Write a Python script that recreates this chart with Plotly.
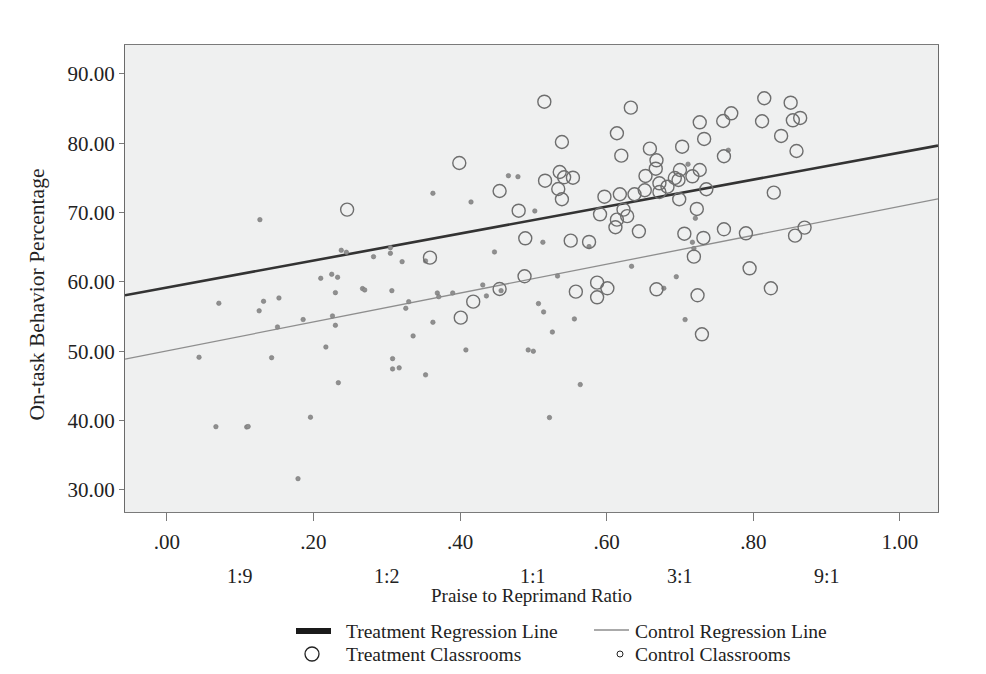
import plotly.graph_objects as go

# ---- data ----
treat_x = [0.246, 0.359, 0.399, 0.401, 0.418, 0.454, 0.454, 0.480, 0.489, 0.488,
           0.515, 0.516, 0.534, 0.536, 0.539, 0.539, 0.542, 0.554, 0.551, 0.558,
           0.576, 0.587, 0.587, 0.591, 0.597, 0.601, 0.614, 0.612, 0.614, 0.620,
           0.618, 0.623, 0.628, 0.633, 0.638, 0.644, 0.652, 0.653, 0.659, 0.668,
           0.667, 0.672, 0.672, 0.668, 0.683, 0.693, 0.700, 0.698, 0.699, 0.703,
           0.706, 0.717, 0.719, 0.723, 0.724, 0.727, 0.727, 0.732, 0.730, 0.733,
           0.736, 0.759, 0.760, 0.760, 0.770, 0.790, 0.795, 0.812, 0.815, 0.824,
           0.828, 0.838, 0.851, 0.854, 0.857, 0.859, 0.864, 0.870]
treat_y = [70.44, 63.51, 77.16, 54.85, 57.16, 73.12, 58.99, 70.28, 66.30, 60.82,
           86.00, 74.61, 73.41, 75.86, 80.19, 71.93, 75.10, 75.04, 65.96, 58.60,
           65.77, 59.90, 57.79, 69.76, 72.30, 59.09, 81.45, 67.89, 68.99, 78.22,
           72.65, 70.44, 69.49, 85.14, 72.65, 67.31, 73.23, 75.29, 79.23, 77.55,
           76.34, 74.23, 72.98, 58.94, 73.74, 75.00, 76.15, 74.71, 71.93, 79.51,
           66.96, 75.24, 63.65, 70.53, 58.08, 83.03, 76.15, 66.35, 52.45, 80.63,
           73.37, 83.22, 78.13, 67.60, 84.33, 67.02, 61.97, 83.18, 86.50, 59.09,
           72.88, 81.06, 85.86, 83.32, 66.68, 78.89, 83.66, 67.84]

ctrl_x = [0.127, 0.210, 0.225, 0.233, 0.230, 0.071, 0.132, 0.153, 0.126, 0.186,
          0.151, 0.226, 0.230, 0.217, 0.044, 0.143, 0.234, 0.067, 0.109, 0.111,
          0.196, 0.179, 0.238, 0.245, 0.305, 0.305, 0.282, 0.321, 0.353, 0.267,
          0.270, 0.307, 0.330, 0.326, 0.369, 0.371, 0.390, 0.431, 0.436, 0.456,
          0.507, 0.514, 0.363, 0.336, 0.408, 0.493, 0.500, 0.308, 0.308, 0.317,
          0.353, 0.522, 0.466, 0.479, 0.363, 0.415, 0.502, 0.513, 0.447, 0.533,
          0.634, 0.695, 0.678, 0.526, 0.556, 0.707, 0.564, 0.711, 0.766, 0.721,
          0.717, 0.719, 0.576]
ctrl_y = [68.99, 60.53, 61.11, 60.68, 58.46, 56.93, 57.21, 57.69, 55.84, 54.58,
          53.51, 55.10, 53.75, 50.62, 49.14, 49.08, 45.47, 39.13, 39.08, 39.15,
          40.49, 31.63, 64.57, 64.28, 64.95, 64.14, 63.65, 62.93, 63.03, 59.04,
          58.85, 58.75, 57.16, 56.20, 58.41, 57.88, 58.41, 59.57, 57.99, 58.75,
          56.88, 55.68, 54.19, 52.22, 50.20, 50.20, 50.01, 48.94, 47.46, 47.61,
          46.60, 40.44, 75.33, 75.19, 72.79, 71.54, 70.24, 65.73, 64.33, 60.86,
          62.26, 60.76, 59.09, 52.78, 54.67, 54.57, 45.20, 76.99, 79.00, 69.19,
          65.73, 64.81, 65.10]

# regression lines: intercept, slope
treat_fit = (59.19, 19.46)
ctrl_fit = (50.06, 20.83)

x_range = [-0.057, 1.052]
y_range = [26.82, 94.18]

x_tickvals = [0.0, 0.2, 0.4, 0.6, 0.8, 1.0]
x_ticktext = [".00", ".20", ".40", ".60", ".80", "1.00"]
y_tickvals = [30, 40, 50, 60, 70, 80, 90]
y_ticktext = ["30.00", "40.00", "50.00", "60.00", "70.00", "80.00", "90.00"]

ratio_pos = [0.1, 0.3, 0.5, 0.7, 0.9]
ratio_labels = ["1:9", "1:2", "1:1", "3:1", "9:1"]

legend_labels = ["Treatment Regression Line", "Control Regression Line",
                 "Treatment Classrooms", "Control Classrooms"]

FONT = "Liberation Serif"
TXT = "#222222"
fig = go.Figure()

fx = x_range
fig.add_trace(go.Scatter(x=fx, y=[treat_fit[0] + treat_fit[1] * v for v in fx],
                         mode="lines", line=dict(color="#333333", width=2.6),
                         name=legend_labels[0], showlegend=False, hoverinfo="skip"))
fig.add_trace(go.Scatter(x=fx, y=[ctrl_fit[0] + ctrl_fit[1] * v for v in fx],
                         mode="lines", line=dict(color="#8e8e8e", width=1.3),
                         name=legend_labels[1], showlegend=False, hoverinfo="skip"))
fig.add_trace(go.Scatter(x=ctrl_x, y=ctrl_y, mode="markers", name=legend_labels[3],
                         marker=dict(symbol="circle", size=4.5, color="#8f8f8f",
                                     line=dict(color="#7a7a7a", width=0.6)),
                         showlegend=False))
fig.add_trace(go.Scatter(x=treat_x, y=treat_y, mode="markers", name=legend_labels[2],
                         marker=dict(symbol="circle-open", size=13, color="#6e6e6e",
                                     line=dict(width=1.4)),
                         showlegend=False))

# page is drawn with an 8px body margin; plot area on screen: x 125-938, y 45-512
PL, PR, PT, PB = 125, 938, 45, 512
def px(sx):
    return (sx - PL) / (PR - PL)
def py(sy):
    return (PB - sy) / (PB - PT)

annotations = []
for p, t in zip(ratio_pos, ratio_labels):
    annotations.append(dict(x=p, y=0, xref="x", yref="paper", text=t, showarrow=False,
                            yanchor="middle", yshift=-64,
                            font=dict(family=FONT, size=20, color=TXT)))
annotations.append(dict(x=0.5, y=0, xref="paper", yref="paper",
                        text="Praise to Reprimand Ratio", showarrow=False,
                        yanchor="middle", yshift=-83,
                        font=dict(family=FONT, size=19, color=TXT)))
annotations.append(dict(x=0, y=0.5, xref="paper", yref="paper",
                        text="On-task Behavior Percentage", showarrow=False,
                        textangle=-90, xanchor="center", xshift=-89, yshift=-16,
                        font=dict(family=FONT, size=21.5, color=TXT)))

# manual legend (two rows x two columns)
row_y = [631, 654]
text_x = [344, 633]
for i, lab in enumerate(legend_labels):
    annotations.append(dict(x=px(text_x[i % 2]), y=py(row_y[i // 2]), xref="paper", yref="paper",
                            text=lab, showarrow=False, xanchor="left", yanchor="middle",
                            font=dict(family=FONT, size=19.5, color=TXT)))

shapes = [
    dict(type="line", xref="paper", yref="paper", x0=px(296), x1=px(331),
         y0=py(631), y1=py(631), line=dict(color="#1a1a1a", width=6)),
    dict(type="line", xref="paper", yref="paper", x0=px(594), x1=px(629),
         y0=py(630), y1=py(630), line=dict(color="#8e8e8e", width=1.5)),
    dict(type="circle", xref="paper", yref="paper", xsizemode="pixel", ysizemode="pixel",
         xanchor=px(312), yanchor=py(654), x0=-7, x1=7, y0=-7, y1=7,
         line=dict(color="#222222", width=1.3)),
    dict(type="circle", xref="paper", yref="paper", xsizemode="pixel", ysizemode="pixel",
         xanchor=px(620), yanchor=py(654), x0=-3, x1=3, y0=-3, y1=3,
         line=dict(color="#222222", width=1)),
]

fig.update_layout(
    width=986, height=674,
    margin=dict(l=117, r=56, t=37, b=170, autoexpand=False),
    paper_bgcolor="white", plot_bgcolor="#eff0f0",
    font=dict(family=FONT, color=TXT),
    showlegend=False,
    annotations=annotations,
    shapes=shapes,
    xaxis=dict(range=x_range, tickvals=x_tickvals, ticktext=x_ticktext,
               showgrid=False, zeroline=False, showline=True, mirror=True,
               linecolor="#7a7a7a", linewidth=1, ticks="outside", ticklen=8,
               tickcolor="#7a7a7a", ticklabelstandoff=3, automargin=False,
               tickfont=dict(family=FONT, size=21, color=TXT)),
    yaxis=dict(range=y_range, tickvals=y_tickvals, ticktext=y_ticktext,
               showgrid=False, zeroline=False, showline=True, mirror=True,
               linecolor="#6a6a6a", linewidth=1, ticks="outside", ticklen=5,
               tickcolor="#7a7a7a", automargin=False,
               tickfont=dict(family=FONT, size=21, color=TXT)),
)

fig.write_html("out.html")
